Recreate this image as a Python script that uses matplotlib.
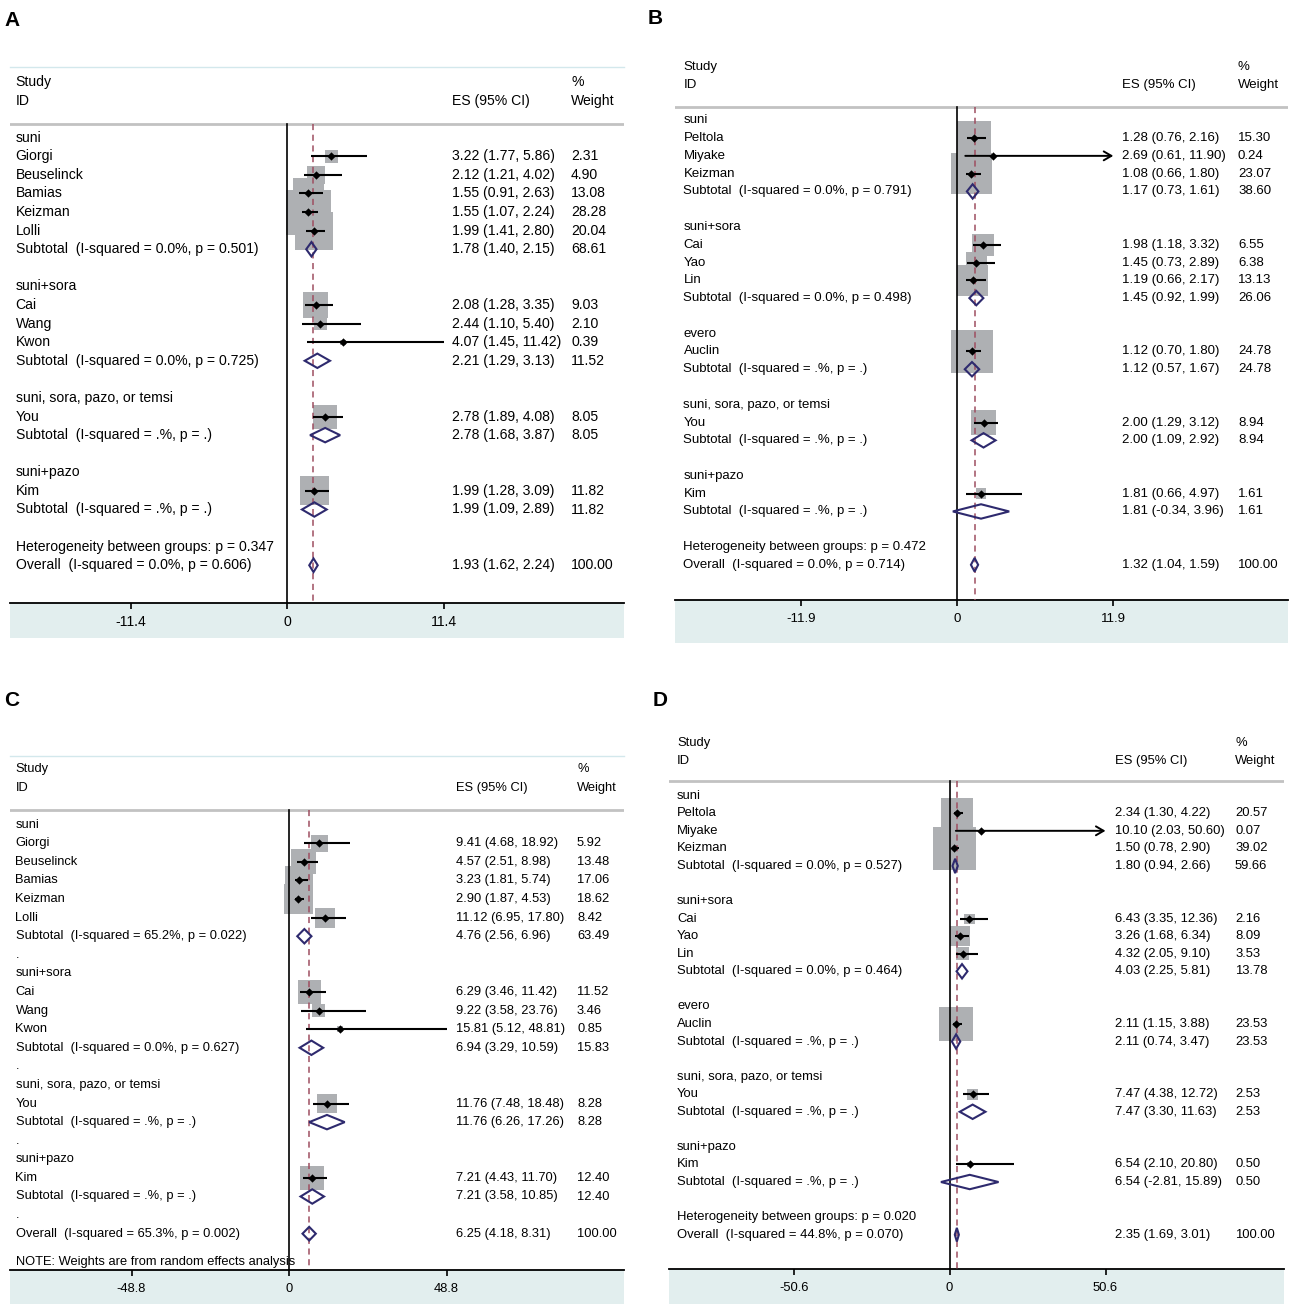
import matplotlib.pyplot as plt
from matplotlib import font_manager
from matplotlib.patches import Polygon, Rectangle
from matplotlib.transforms import blended_transform_factory

# ---------------- data ----------------
# panel A
A_study = ["Giorgi", "Beuselinck", "Bamias", "Keizman", "Lolli", "Cai", "Wang", "Kwon", "You", "Kim"]
A_group = ["suni"] * 5 + ["suni+sora"] * 3 + ["suni, sora, pazo, or temsi", "suni+pazo"]
A_es = [3.22, 2.12, 1.55, 1.55, 1.99, 2.08, 2.44, 4.07, 2.78, 1.99]
A_lo = [1.77, 1.21, 0.91, 1.07, 1.41, 1.28, 1.10, 1.45, 1.89, 1.28]
A_hi = [5.86, 4.02, 2.63, 2.24, 2.80, 3.35, 5.40, 11.42, 4.08, 3.09]
A_w = [2.31, 4.90, 13.08, 28.28, 20.04, 9.03, 2.10, 0.39, 8.05, 11.82]
A_sub_het = ["I-squared = 0.0%, p = 0.501", "I-squared = 0.0%, p = 0.725",
             "I-squared = .%, p = .", "I-squared = .%, p = ."]
A_sub_es = [1.78, 2.21, 2.78, 1.99]
A_sub_lo = [1.40, 1.29, 1.68, 1.09]
A_sub_hi = [2.15, 3.13, 3.87, 2.89]
A_sub_w = [68.61, 11.52, 8.05, 11.82]
A_overall = [1.93, 1.62, 2.24, 100.00]
A_overall_het = "I-squared = 0.0%, p = 0.606"
A_between = "p = 0.347"
A_tick = 11.4

# panel B
B_study = ["Peltola", "Miyake", "Keizman", "Cai", "Yao", "Lin", "Auclin", "You", "Kim"]
B_group = ["suni"] * 3 + ["suni+sora"] * 3 + ["evero", "suni, sora, pazo, or temsi", "suni+pazo"]
B_es = [1.28, 2.69, 1.08, 1.98, 1.45, 1.19, 1.12, 2.00, 1.81]
B_lo = [0.76, 0.61, 0.66, 1.18, 0.73, 0.66, 0.70, 1.29, 0.66]
B_hi = [2.16, 11.90, 1.80, 3.32, 2.89, 2.17, 1.80, 3.12, 4.97]
B_w = [15.30, 0.24, 23.07, 6.55, 6.38, 13.13, 24.78, 8.94, 1.61]
B_sub_het = ["I-squared = 0.0%, p = 0.791", "I-squared = 0.0%, p = 0.498",
             "I-squared = .%, p = .", "I-squared = .%, p = .", "I-squared = .%, p = ."]
B_sub_es = [1.17, 1.45, 1.12, 2.00, 1.81]
B_sub_lo = [0.73, 0.92, 0.57, 1.09, -0.34]
B_sub_hi = [1.61, 1.99, 1.67, 2.92, 3.96]
B_sub_w = [38.60, 26.06, 24.78, 8.94, 1.61]
B_overall = [1.32, 1.04, 1.59, 100.00]
B_overall_het = "I-squared = 0.0%, p = 0.714"
B_between = "p = 0.472"
B_tick = 11.9
B_arrow = ["Miyake"]

# panel C
C_study = ["Giorgi", "Beuselinck", "Bamias", "Keizman", "Lolli", "Cai", "Wang", "Kwon", "You", "Kim"]
C_group = ["suni"] * 5 + ["suni+sora"] * 3 + ["suni, sora, pazo, or temsi", "suni+pazo"]
C_es = [9.41, 4.57, 3.23, 2.90, 11.12, 6.29, 9.22, 15.81, 11.76, 7.21]
C_lo = [4.68, 2.51, 1.81, 1.87, 6.95, 3.46, 3.58, 5.12, 7.48, 4.43]
C_hi = [18.92, 8.98, 5.74, 4.53, 17.80, 11.42, 23.76, 48.81, 18.48, 11.70]
C_w = [5.92, 13.48, 17.06, 18.62, 8.42, 11.52, 3.46, 0.85, 8.28, 12.40]
C_sub_het = ["I-squared = 65.2%, p = 0.022", "I-squared = 0.0%, p = 0.627",
             "I-squared = .%, p = .", "I-squared = .%, p = ."]
C_sub_es = [4.76, 6.94, 11.76, 7.21]
C_sub_lo = [2.56, 3.29, 6.26, 3.58]
C_sub_hi = [6.96, 10.59, 17.26, 10.85]
C_sub_w = [63.49, 15.83, 8.28, 12.40]
C_overall = [6.25, 4.18, 8.31, 100.00]
C_overall_het = "I-squared = 65.3%, p = 0.002"
C_note = "NOTE: Weights are from random effects analysis"
C_tick = 48.8

# panel D
D_study = ["Peltola", "Miyake", "Keizman", "Cai", "Yao", "Lin", "Auclin", "You", "Kim"]
D_group = ["suni"] * 3 + ["suni+sora"] * 3 + ["evero", "suni, sora, pazo, or temsi", "suni+pazo"]
D_es = [2.34, 10.10, 1.50, 6.43, 3.26, 4.32, 2.11, 7.47, 6.54]
D_lo = [1.30, 2.03, 0.78, 3.35, 1.68, 2.05, 1.15, 4.38, 2.10]
D_hi = [4.22, 50.60, 2.90, 12.36, 6.34, 9.10, 3.88, 12.72, 20.80]
D_w = [20.57, 0.07, 39.02, 2.16, 8.09, 3.53, 23.53, 2.53, 0.50]
D_sub_het = ["I-squared = 0.0%, p = 0.527", "I-squared = 0.0%, p = 0.464",
             "I-squared = .%, p = .", "I-squared = .%, p = .", "I-squared = .%, p = ."]
D_sub_es = [1.80, 4.03, 2.11, 7.47, 6.54]
D_sub_lo = [0.94, 2.25, 0.74, 3.30, -2.81]
D_sub_hi = [2.66, 5.81, 3.47, 11.63, 15.89]
D_sub_w = [59.66, 13.78, 23.53, 2.53, 0.50]
D_overall = [2.35, 1.69, 3.01, 100.00]
D_overall_het = "I-squared = 44.8%, p = 0.070"
D_between = "p = 0.020"
D_tick = 50.6
D_arrow = ["Miyake"]

# ---------------- style ----------------
installed = {f.name for f in font_manager.fontManager.ttflist}
plt.rcParams['font.family'] = ['Liberation Sans', 'DejaVu Sans']
letter_family = ['Liberation Sans Narrow'] if 'Liberation Sans Narrow' in installed else ['Liberation Sans']

BOX = "#aeb0b3"
NAVY = "#2e2a6e"
REDDASH = "#9e4e60"
SHADE = "#e2eeee"
TOPLINE = "#d3e8ec"
SEPLINE = "#c2c2c2"

W, H = 1291, 1305
fig = plt.figure(figsize=(W / 100, H / 100), dpi=100)

panels = [
    dict(letter="A", study=A_study, group=A_group, es=A_es, lo=A_lo, hi=A_hi, w=A_w,
         sub_het=A_sub_het, sub_es=A_sub_es, sub_lo=A_sub_lo, sub_hi=A_sub_hi, sub_w=A_sub_w,
         overall=A_overall, overall_het=A_overall_het, between=A_between, tick=A_tick,
         arrow=[], note=None, dots=False),
    dict(letter="B", study=B_study, group=B_group, es=B_es, lo=B_lo, hi=B_hi, w=B_w,
         sub_het=B_sub_het, sub_es=B_sub_es, sub_lo=B_sub_lo, sub_hi=B_sub_hi, sub_w=B_sub_w,
         overall=B_overall, overall_het=B_overall_het, between=B_between, tick=B_tick,
         arrow=B_arrow, note=None, dots=False),
    dict(letter="C", study=C_study, group=C_group, es=C_es, lo=C_lo, hi=C_hi, w=C_w,
         sub_het=C_sub_het, sub_es=C_sub_es, sub_lo=C_sub_lo, sub_hi=C_sub_hi, sub_w=C_sub_w,
         overall=C_overall, overall_het=C_overall_het, between=None, tick=C_tick,
         arrow=[], note=C_note, dots=True),
    dict(letter="D", study=D_study, group=D_group, es=D_es, lo=D_lo, hi=D_hi, w=D_w,
         sub_het=D_sub_het, sub_es=D_sub_es, sub_lo=D_sub_lo, sub_hi=D_sub_hi, sub_w=D_sub_w,
         overall=D_overall, overall_het=D_overall_het, between=D_between, tick=D_tick,
         arrow=D_arrow, note=None, dots=False),
]

# layout in pixels of the 1291x1305 canvas
layouts = [
    dict(left=10, right=624, top=66.7, axis_y=602.7, row0=137.7, step=18.59, gray_y=124,
         zero=287, tick_px=443.5, shade_bottom=638.3, lab_x=15.5, es_x=452.5, w_x=571,
         fs=10.1, box_k=37.0, top_line=True, letter_xy=(12, 20)),
    dict(left=675, right=1288, top=52.7, axis_y=600, row0=120.3, step=17.78, gray_y=106.7,
         zero=957.3, tick_px=1113.3, shade_bottom=642.7, lab_x=683.5, es_x=1122, w_x=1238,
         fs=9.5, box_k=37.5, top_line=False, letter_xy=(655, 19)),
    dict(left=10, right=624, top=756, axis_y=1270, row0=824.7, step=18.59, gray_y=810,
         zero=289, tick_px=446.5, shade_bottom=1304, lab_x=15.5, es_x=455.5, w_x=577,
         fs=9.3, box_k=24.0, top_line=True, letter_xy=(12, 700)),
    dict(left=669, right=1284, top=729, axis_y=1269.3, row0=795.7, step=17.56, gray_y=781,
         zero=949.6, tick_px=1105.5, shade_bottom=1304, lab_x=677, es_x=1115, w_x=1235,
         fs=9.4, box_k=25.0, top_line=False, letter_xy=(660, 700)),
]


def diamond(ax, y, es, lo, hi, h):
    ax.add_patch(Polygon([(lo, y), (es, y - h), (hi, y), (es, y + h)], closed=True,
                         fill=False, edgecolor=NAVY, lw=1.5, zorder=5))


def forest(d, lay):
    ppu = (lay["tick_px"] - lay["zero"]) / d["tick"]
    x0 = (lay["left"] - lay["zero"]) / ppu
    x1 = (lay["right"] - lay["zero"]) / ppu
    step, row0 = lay["step"], lay["row0"]
    ybot = (lay["axis_y"] - row0) / step
    ytop = (lay["top"] - row0) / step
    ygray = (lay["gray_y"] - row0) / step
    ax = fig.add_axes([lay["left"] / W, 1 - lay["axis_y"] / H,
                       (lay["right"] - lay["left"]) / W, (lay["axis_y"] - lay["top"]) / H])
    ax.set_xlim(x0, x1)
    ax.set_ylim(ybot, ytop)
    ax.set_facecolor("none")
    fs = lay["fs"]
    span = lay["right"] - lay["left"]
    fx = lambda px: (px - lay["left"]) / span
    tr = blended_transform_factory(ax.transAxes, ax.transData)

    # build rows
    groups = list(dict.fromkeys(d["group"]))
    blank = "." if d["dots"] else ""
    rows = []
    for gi, g in enumerate(groups):
        rows.append((g, "text", None))
        for i, gg in enumerate(d["group"]):
            if gg == g:
                rows.append((d["study"][i], "study", i))
        rows.append(("Subtotal  (" + d["sub_het"][gi] + ")", "sub", gi))
        rows.append((blank, "text", None))
    if d["between"]:
        rows.append(("Heterogeneity between groups: " + d["between"], "text", None))
    rows.append(("Overall  (" + d["overall_het"] + ")", "overall", None))

    h = 7.2 / step
    sy, sidx = [], []
    for y, (label, kind, idx) in enumerate(rows):
        ax.text(fx(lay["lab_x"]), y, label, transform=tr, fontsize=fs, va="center", ha="left")
        if kind == "study":
            es, lo, hi, w = d["es"][idx], d["lo"][idx], d["hi"][idx], d["w"][idx]
            sy.append(y)
            sidx.append(idx)
        elif kind == "sub":
            es, lo, hi, w = d["sub_es"][idx], d["sub_lo"][idx], d["sub_hi"][idx], d["sub_w"][idx]
            diamond(ax, y, es, lo, hi, h)
        elif kind == "overall":
            es, lo, hi, w = d["overall"]
            diamond(ax, y, es, lo, hi, h * 0.95)
        else:
            continue
        ax.text(fx(lay["es_x"]), y, f"{es:.2f} ({lo:.2f}, {hi:.2f})", transform=tr,
                fontsize=fs, va="center", ha="left")
        ax.text(fx(lay["w_x"]), y, f"{w:.2f}", transform=tr, fontsize=fs, va="center", ha="left")

    # study boxes, CI lines and point estimates
    es_s = [d["es"][i] for i in sidx]
    ax.scatter(es_s, sy, s=[lay["box_k"] * d["w"][i] for i in sidx], marker="s",
               color=BOX, linewidths=0, zorder=2)
    t = d["tick"]
    for y, i in zip(sy, sidx):
        lo = max(d["lo"][i], -t)
        hi = min(d["hi"][i], t)
        if d["study"][i] in d["arrow"]:
            ax.annotate("", xy=(hi, y), xytext=(lo, y),
                        arrowprops=dict(arrowstyle="->,head_length=0.55,head_width=0.32",
                                        lw=1.4, color="black", shrinkA=0, shrinkB=0), zorder=4)
        else:
            ax.plot([lo, hi], [y, y], color="black", lw=1.5, zorder=4, solid_capstyle="butt")
    ax.scatter(es_s, sy, s=18, marker="D", color="black", linewidths=0, zorder=4.5)

    # reference lines
    ax.plot([0, 0], [ygray, ybot], color="black", lw=1.2, zorder=3)
    ov = d["overall"][0]
    ax.plot([ov, ov], [ygray, ybot], color=REDDASH, lw=1.1, ls=(0, (4, 3)), zorder=3)
    ax.axhline(ygray, color=SEPLINE, lw=2.0, zorder=1)

    # header
    ax.text(fx(lay["lab_x"]), -3, "Study", transform=tr, fontsize=fs, va="center")
    ax.text(fx(lay["lab_x"]), -2, "ID", transform=tr, fontsize=fs, va="center")
    ax.text(fx(lay["es_x"]), -2, "ES (95% CI)", transform=tr, fontsize=fs, va="center")
    ax.text(fx(lay["w_x"]), -3, "%", transform=tr, fontsize=fs, va="center")
    ax.text(fx(lay["w_x"]), -2, "Weight", transform=tr, fontsize=fs, va="center")
    if d["note"]:
        ax.text(fx(lay["lab_x"]), len(rows) + 0.5, d["note"], transform=tr, fontsize=fs,
                va="center", zorder=6)

    # axes styling
    for s in ("left", "right"):
        ax.spines[s].set_visible(False)
    ax.spines["top"].set_visible(lay["top_line"])
    ax.spines["top"].set_color(TOPLINE)
    ax.spines["top"].set_linewidth(1.0)
    ax.spines["bottom"].set_linewidth(1.3)
    ax.set_yticks([])
    ax.set_xticks([-t, 0, t])
    ax.set_xticklabels([f"{-t:g}", "0", f"{t:g}"])
    ax.tick_params(axis="x", direction="out", length=4.5, width=1.2, pad=4.5, labelsize=fs)

    fig.add_artist(Rectangle((lay["left"] / W, 1 - lay["shade_bottom"] / H), span / W,
                             (lay["shade_bottom"] - lay["axis_y"]) / H, transform=fig.transFigure,
                             facecolor=SHADE, edgecolor="none", zorder=-1))
    lx, ly = lay["letter_xy"]
    fig.text(lx / W, 1 - ly / H, d["letter"], fontsize=15, fontweight="bold",
             family=letter_family, ha="center", va="center")


for d, lay in zip(panels, layouts):
    forest(d, lay)

fig.savefig("out.png", dpi=100)
